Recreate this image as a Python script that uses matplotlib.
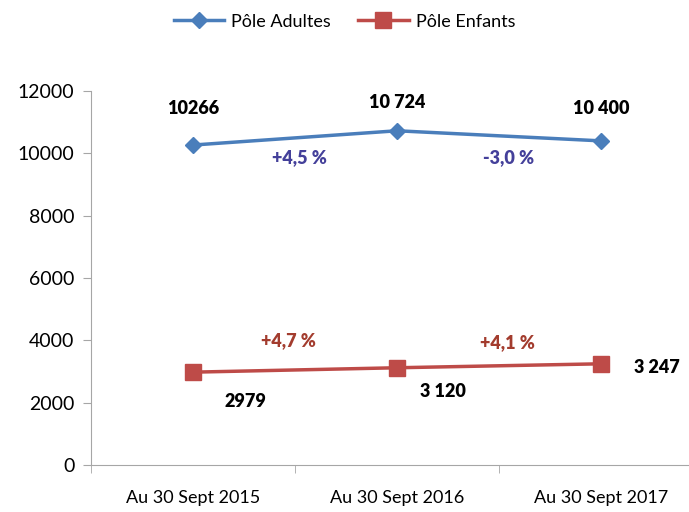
import matplotlib
matplotlib.use("Agg")
import matplotlib.pyplot as plt

plt.rcParams["font.family"] = ["Lato", "DejaVu Sans"]

# data
categories = ["Au 30 Sept 2015", "Au 30 Sept 2016", "Au 30 Sept 2017"]
adultes = [10266, 10724, 10400]
enfants = [2979, 3120, 3247]
adultes_labels = ["10266", "10 724", "10 400"]
enfants_labels = ["2979", "3 120", "3 247"]
adultes_var = ["+4,5 %", "-3,0 %"]
enfants_var = ["+4,7 %", "+4,1 %"]

blue = "#4a7ebb"
red = "#be4b48"
grey = "#a6a6a6"

fig = plt.figure(figsize=(6.89, 5.12), dpi=100)
ax = fig.add_axes([91 / 689, 47 / 512, 612 / 689, 374 / 512])

x = range(len(categories))
ax.plot(x, adultes, color=blue, lw=2.5, marker="D", ms=8, label="Pôle Adultes")
ax.plot(x, enfants, color=red, lw=2.5, marker="s", ms=11, label="Pôle Enfants")

ax.set_xlim(-0.5, 2.5)
ax.set_ylim(0, 12000)
ax.set_yticks(range(0, 12001, 2000))
ax.set_xticks(list(x))
ax.set_xticklabels(categories, fontsize=13)
ax.set_xticks([-0.5, 0.5, 1.5, 2.5], minor=True)
ax.tick_params(axis="x", which="major", length=0, pad=18)
ax.tick_params(axis="x", which="minor", length=6, color=grey)
ax.tick_params(axis="y", length=6, color=grey, labelsize=14, pad=6)
for s in ["top", "right"]:
    ax.spines[s].set_visible(False)
for s in ["left", "bottom"]:
    ax.spines[s].set_color(grey)

# value labels
offs_a = [(0, 26), (0, 20), (0, 23)]
for i, (v, t) in enumerate(zip(adultes, adultes_labels)):
    ax.annotate(t, (i, v), xytext=offs_a[i], textcoords="offset points",
                ha="center", va="center", fontsize=13, fontweight="heavy")
offs_e = [(38, -21), (33, -17), (40, -3)]
for i, (v, t) in enumerate(zip(enfants, enfants_labels)):
    ax.annotate(t, (i, v), xytext=offs_e[i], textcoords="offset points",
                ha="center", va="center", fontsize=13, fontweight="heavy")

# variation labels
offs_av = [(3, -14), (7, -16)]
for i, t in enumerate(adultes_var):
    ymid = (adultes[i] + adultes[i + 1]) / 2
    ax.annotate(t, (i + 0.5, ymid), xytext=offs_av[i], textcoords="offset points",
                ha="center", va="center", fontsize=13, fontweight="heavy",
                color="#44409a")
offs_ev = [(-5, 21), (6, 17)]
for i, t in enumerate(enfants_var):
    ymid = (enfants[i] + enfants[i + 1]) / 2
    ax.annotate(t, (i + 0.5, ymid), xytext=offs_ev[i], textcoords="offset points",
                ha="center", va="center", fontsize=13, fontweight="heavy",
                color="#a33c2e")

fig.legend(loc="upper center", bbox_to_anchor=(0.5, 1.005), ncol=2, frameon=False,
           fontsize=13, handlelength=2.8, columnspacing=1.5, handletextpad=0.4)

fig.savefig("out.png", dpi=100)
